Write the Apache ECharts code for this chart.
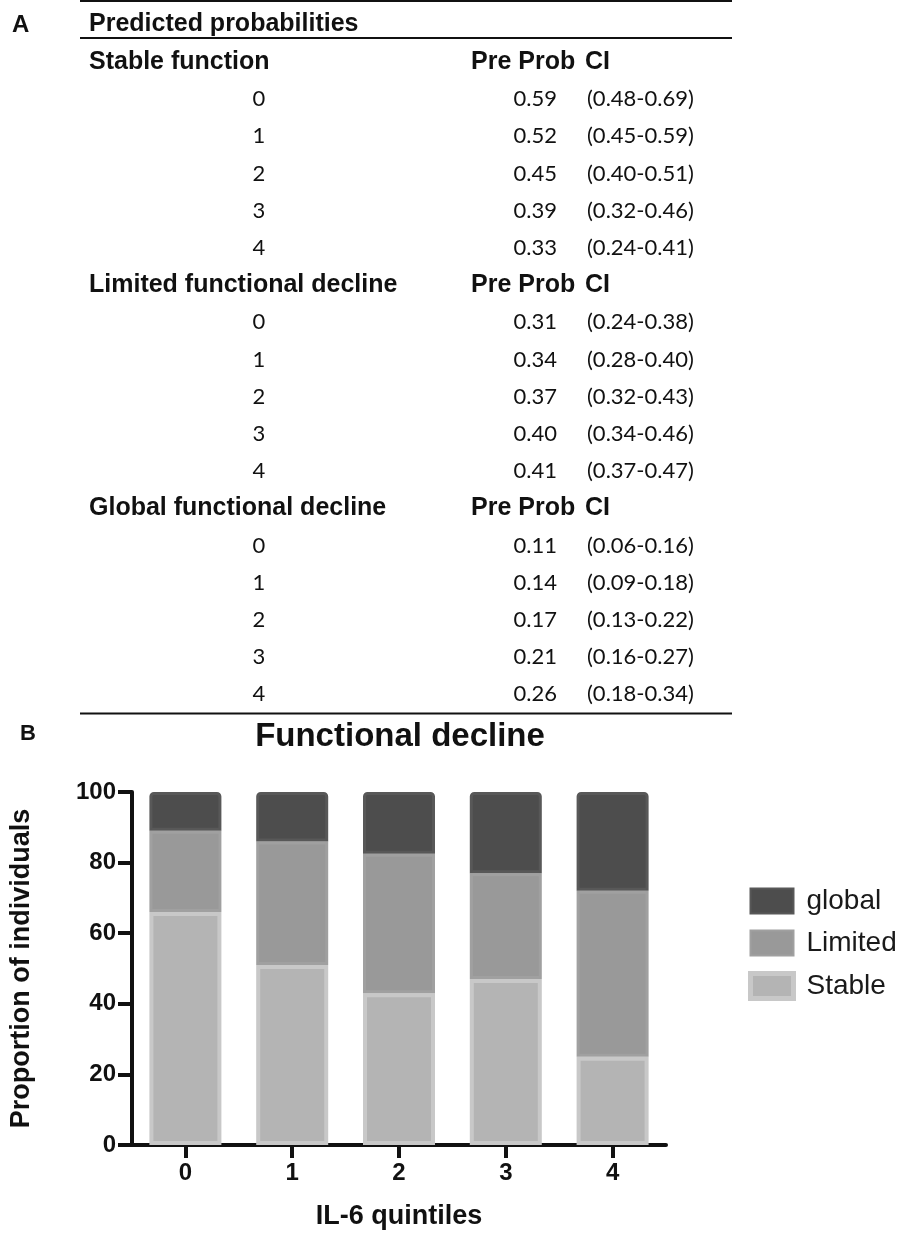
<!DOCTYPE html>
<html>
<head>
<meta charset="utf-8">
<script src="https://cdn.jsdelivr.net/npm/echarts@6/dist/echarts.min.js"></script>
<style>
html,body{margin:0;padding:0;background:#fff;}
#c{width:901px;height:1234px;}
</style>
</head>
<body>
<div id="c"></div>
<script>
// ---- Panel A data ----
const groupNames = ['Stable function', 'Limited functional decline', 'Global functional decline'];
const quintileRows = ['0', '1', '2', '3', '4'];
const stableProb = ['0.59', '0.52', '0.45', '0.39', '0.33'];
const stableCI = ['(0.48-0.69)', '(0.45-0.59)', '(0.40-0.51)', '(0.32-0.46)', '(0.24-0.41)'];
const limitedProb = ['0.31', '0.34', '0.37', '0.40', '0.41'];
const limitedCI = ['(0.24-0.38)', '(0.28-0.40)', '(0.32-0.43)', '(0.34-0.46)', '(0.37-0.47)'];
const globalProb = ['0.11', '0.14', '0.17', '0.21', '0.26'];
const globalCI = ['(0.06-0.16)', '(0.09-0.18)', '(0.13-0.22)', '(0.16-0.27)', '(0.18-0.34)'];

// ---- Panel B data ----
const categories = ['0', '1', '2', '3', '4'];
const stableVals = [66, 51, 43, 47, 25];
const limitedVals = [23, 35, 39.5, 30, 47];
const globalVals = [11, 14, 17.5, 23, 28];

const chart = echarts.init(document.getElementById('c'), null, {renderer: 'canvas'});

const boldFont = "'Liberation Sans', Arial, sans-serif";
const numFont = "Lato, 'Open Sans', sans-serif";

const graphics = [];
function line(x1, y1, x2, y2, w) {
  graphics.push({type: 'line', z: 100, shape: {x1, y1, x2, y2}, style: {stroke: '#111', lineWidth: w}});
}
function txt(x, y, text, opts) {
  graphics.push({type: 'text', z: 100, x, y, style: Object.assign({
    text, fill: '#111', verticalAlign: 'middle', align: 'left'
  }, opts)});
}

const rowH = 37.2;
const y0 = 62;
line(80, 1, 732, 1, 2);
txt(12, 25, 'A', {font: 'bold 24px ' + boldFont});
txt(89, 24, 'Predicted probabilities', {font: 'bold 25px ' + boldFont});
line(80, 38, 732, 38, 2);

const groups = [
  {probs: stableProb, cis: stableCI},
  {probs: limitedProb, cis: limitedCI},
  {probs: globalProb, cis: globalCI}
];
groups.forEach((g, gi) => {
  const baseK = gi * 6;
  const yh = y0 + baseK * rowH;
  txt(89, yh, groupNames[gi], {font: 'bold 25px ' + boldFont});
  txt(471, yh, 'Pre Prob', {font: 'bold 25px ' + boldFont});
  txt(585, yh, 'CI', {font: 'bold 25px ' + boldFont});
  quintileRows.forEach((q, i) => {
    const y = y0 + (baseK + i + 1) * rowH;
    txt(259, y, q, {font: '22px ' + numFont, align: 'center'});
    txt(557, y, g.probs[i], {font: '22px ' + numFont, align: 'right'});
    txt(587, y, g.cis[i], {font: '22px ' + numFont});
  });
});
line(80, y0 + 17 * rowH + 19, 732, y0 + 17 * rowH + 19, 2);

txt(20, 734, 'B', {font: 'bold 22px ' + boldFont});
txt(400, 737, 'Functional decline', {font: 'bold 33px ' + boldFont, align: 'center'});

const labelStyle = {fontSize: 24, fontWeight: 'bold', color: '#111', fontFamily: boldFont};
const nameStyle = {fontSize: 27, fontWeight: 'bold', color: '#111', fontFamily: boldFont};

const option = {
  animation: false,
  backgroundColor: '#fff',
  grid: {left: 131, top: 792, width: 535, height: 353, containLabel: false},
  legend: {
    orient: 'vertical',
    left: 743,
    top: 882,
    icon: 'rect',
    itemWidth: 43,
    itemHeight: 25,
    itemGap: 14,
    data: [
      {name: 'global'},
      {name: 'Limited'},
      {name: 'Stable', itemStyle: {color: '#b4b4b4', borderColor: '#c8c8c8', borderWidth: 5}}
    ],
    textStyle: {fontSize: 28, lineHeight: 28, color: '#1a1a1a', fontFamily: boldFont, padding: [0, 0, 0, 8]}
  },
  xAxis: {
    type: 'category',
    data: categories,
    axisLine: {lineStyle: {color: '#111', width: 4}},
    axisTick: {show: true, alignWithLabel: true, length: 13, lineStyle: {width: 4, color: '#111'}},
    axisLabel: Object.assign({margin: 16}, labelStyle),
    name: 'IL-6 quintiles',
    nameLocation: 'middle',
    nameGap: 58,
    nameTextStyle: nameStyle
  },
  yAxis: {
    type: 'value',
    min: 0, max: 100, interval: 20,
    axisLine: {show: true, lineStyle: {color: '#111', width: 4}},
    axisTick: {show: true, length: 14, lineStyle: {width: 4, color: '#111'}},
    splitLine: {show: false},
    axisLabel: Object.assign({margin: 16}, labelStyle),
    name: 'Proportion of individuals',
    nameLocation: 'middle',
    nameGap: 97,
    nameTextStyle: nameStyle
  },
  series: [
    {name: 'Stable', type: 'bar', stack: 'all', data: stableVals, barWidth: 72,
      itemStyle: {color: '#b4b4b4', borderColor: '#c8c8c8', borderWidth: 4}},
    {name: 'Limited', type: 'bar', stack: 'all', data: limitedVals, barWidth: 72,
      itemStyle: {color: '#999999', borderColor: '#a0a0a0', borderWidth: 3}},
    {name: 'global', type: 'bar', stack: 'all', data: globalVals, barWidth: 72,
      itemStyle: {color: '#4d4d4d', borderColor: '#585858', borderWidth: 3, borderRadius: [3, 3, 0, 0]}}
  ],
  graphic: graphics
};
chart.setOption(option);
</script>
</body>
</html>
